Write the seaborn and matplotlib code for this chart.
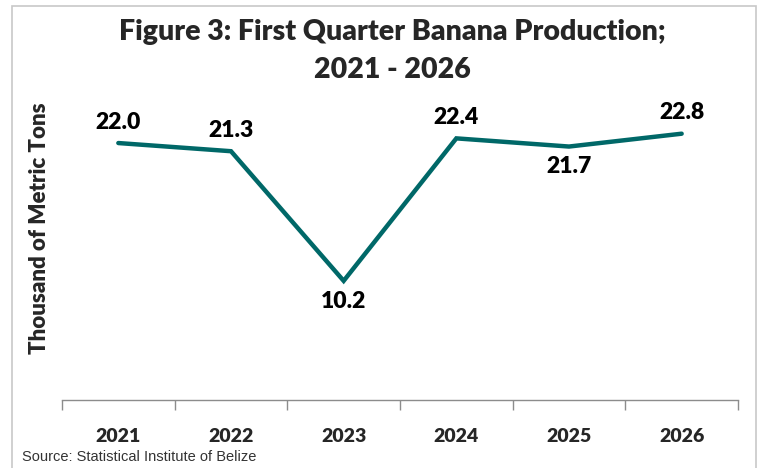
import numpy as np
import pandas as pd
import matplotlib
matplotlib.use('Agg')
import matplotlib.pyplot as plt
from matplotlib.patches import Rectangle
import seaborn as sns

# Data
years = ['2021', '2022', '2023', '2024', '2025', '2026']
production = [22.0, 21.3, 10.2, 22.4, 21.7, 22.8]

title = 'Figure 3: First Quarter Banana Production;\n2021 - 2026'
ylabel = 'Thousand of Metric Tons'
source = 'Source: Statistical Institute of Belize'

line_color = '#006868'

sns.set_style('white')
plt.rcParams['font.family'] = ['Lato', 'DejaVu Sans']

df = pd.DataFrame({'year': years, 'value': production})
df['pos'] = np.arange(len(df))

fig = plt.figure(figsize=(7.62, 4.68), dpi=100)
ax = fig.add_axes([62 / 762, 68 / 468, 676 / 762, 292 / 468])

sns.lineplot(data=df, x='pos', y='value', ax=ax, color=line_color,
             linewidth=3.2, solid_capstyle='round', solid_joinstyle='miter')

# data labels: below the point when it is a local dip, otherwise above
vals = df['value'].values
for i, v in enumerate(vals):
    left = vals[i - 1] if i > 0 else np.inf
    right = vals[i + 1] if i < len(vals) - 1 else np.inf
    below = v < left and v < right
    ax.annotate(f'{v:.1f}', (i, v), xytext=(0, -14.5 if below else 15),
                textcoords='offset points', ha='center', va='center',
                fontsize=16.5, fontweight='heavy', color='black')

ax.set_xlim(-0.5, len(years) - 0.5)
ax.set_ylim(0, 25)
ax.set_xticks(df['pos'])
ax.set_xticklabels(years, fontsize=14, fontweight='heavy')
ax.set_xticks(np.arange(-0.5, len(years)), minor=True)
ax.tick_params(axis='x', which='major', bottom=False, length=0, pad=20)
ax.tick_params(axis='x', which='minor', bottom=True, length=7, width=1,
               color='#8c8c8c', direction='out')
ax.set_yticks([])
ax.set_xlabel('')
ax.set_ylabel('')
for s in ['top', 'right', 'left']:
    ax.spines[s].set_visible(False)
ax.spines['bottom'].set_color('#8c8c8c')
ax.spines['bottom'].set_linewidth(1)

fig.text(40 / 762, 1 - 228 / 468, ylabel, rotation=90, ha='center', va='center',
         fontsize=16, fontweight='heavy')
fig.text(392 / 762, 1 - 51 / 468, title, ha='center', va='center',
         fontsize=20.5, fontweight='heavy', linespacing=1.55)
fig.text(22 / 762, 1 - 457 / 468, source, ha='left', va='center',
         fontsize=10.5, color='#333333', family=['Liberation Sans', 'DejaVu Sans'])

# chart border
fig.patches.append(Rectangle((12 / 762, -0.01), 744 / 762, 1 - 6 / 468 + 0.01,
                             transform=fig.transFigure, fill=False,
                             edgecolor='#c8c8c8', linewidth=1.2))

fig.savefig('out.png', dpi=100)
